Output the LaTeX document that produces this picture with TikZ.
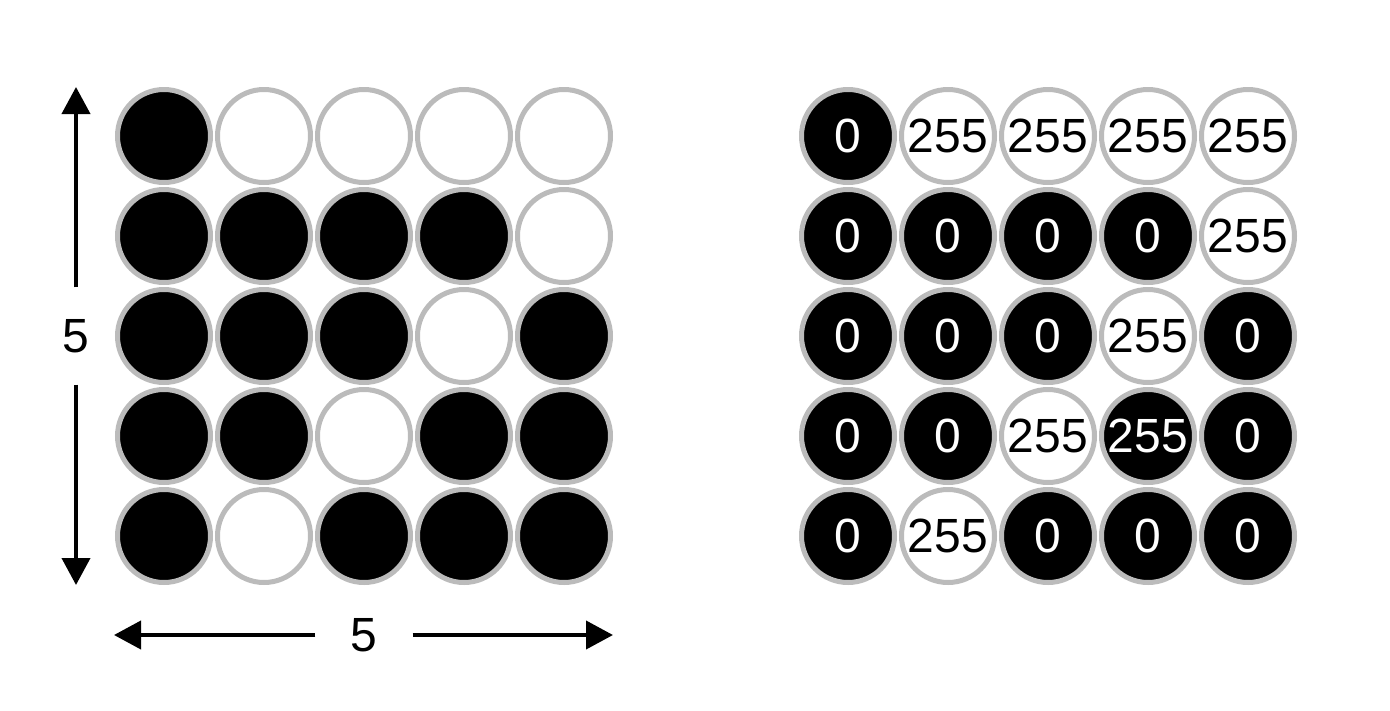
\documentclass[tikz,border=0pt]{standalone}
\usepackage{fontspec}
\setmainfont{Liberation Sans}
\usetikzlibrary{arrows.meta}
\definecolor{ringgray}{HTML}{BBBBBB}
\tikzset{
  dot/.style={circle, draw=ringgray, line width=5pt, minimum size=93pt, inner sep=0pt, font=\fontsize{48}{48}\selectfont},
  blk/.style={dot, fill=black, text=white},
  wht/.style={dot, fill=white, text=black},
  dimarrow/.style={line width=4pt, -{Triangle[length=27pt, width=28pt]}},
  dimlabel/.style={inner sep=0pt, minimum size=97pt, font=\fontsize{48}{48}\selectfont}
}
\begin{document}
\begin{tikzpicture}[x=1pt, y=-1pt]
\useasboundingbox (0,0) rectangle (1390,710);
% left grid: 1 = black, 0 = white
\foreach \row/\pattern in {1/{1,0,0,0,0}, 2/{1,1,1,1,0}, 3/{1,1,1,0,1}, 4/{1,1,0,1,1}, 5/{1,0,1,1,1}} {
  \foreach \v [count=\col] in \pattern {
    \ifnum\v=1
      \node[blk] (L-\row-\col) at ({64+100*\col}, {36+100*\row}) {};
    \else
      \node[wht] (L-\row-\col) at ({64+100*\col}, {36+100*\row}) {};
    \fi
  }
}
% right grid: fill/value
\foreach \row/\pattern in {1/{b/0,w/255,w/255,w/255,w/255}, 2/{b/0,b/0,b/0,b/0,w/255}, 3/{b/0,b/0,b/0,w/255,b/0}, 4/{b/0,b/0,w/255,b/255,b/0}, 5/{b/0,w/255,b/0,b/0,b/0}} {
  \foreach \f/\v [count=\col] in \pattern {
    \if b\f
      \node[blk] (R-\row-\col) at ({748+100*\col}, {36+100*\row}) {\v};
    \else
      \node[wht] (R-\row-\col) at ({748+100*\col}, {36+100*\row}) {\v};
    \fi
  }
}
% vertical dimension
\node[dimlabel] (vlab) at (76,336) {5};
\coordinate (vtop) at (76,87);
\coordinate (vbot) at (76,585);
\draw[dimarrow] (vlab.north) -- (vtop);
\draw[dimarrow] (vlab.south) -- (vbot);
% horizontal dimension
\node[dimlabel] (hlab) at (364,635) {5};
\coordinate (hleft) at (114,635);
\coordinate (hright) at (613,635);
\draw[dimarrow] (hlab.west) -- (hleft);
\draw[dimarrow] (hlab.east) -- (hright);
\end{tikzpicture}
\end{document}
